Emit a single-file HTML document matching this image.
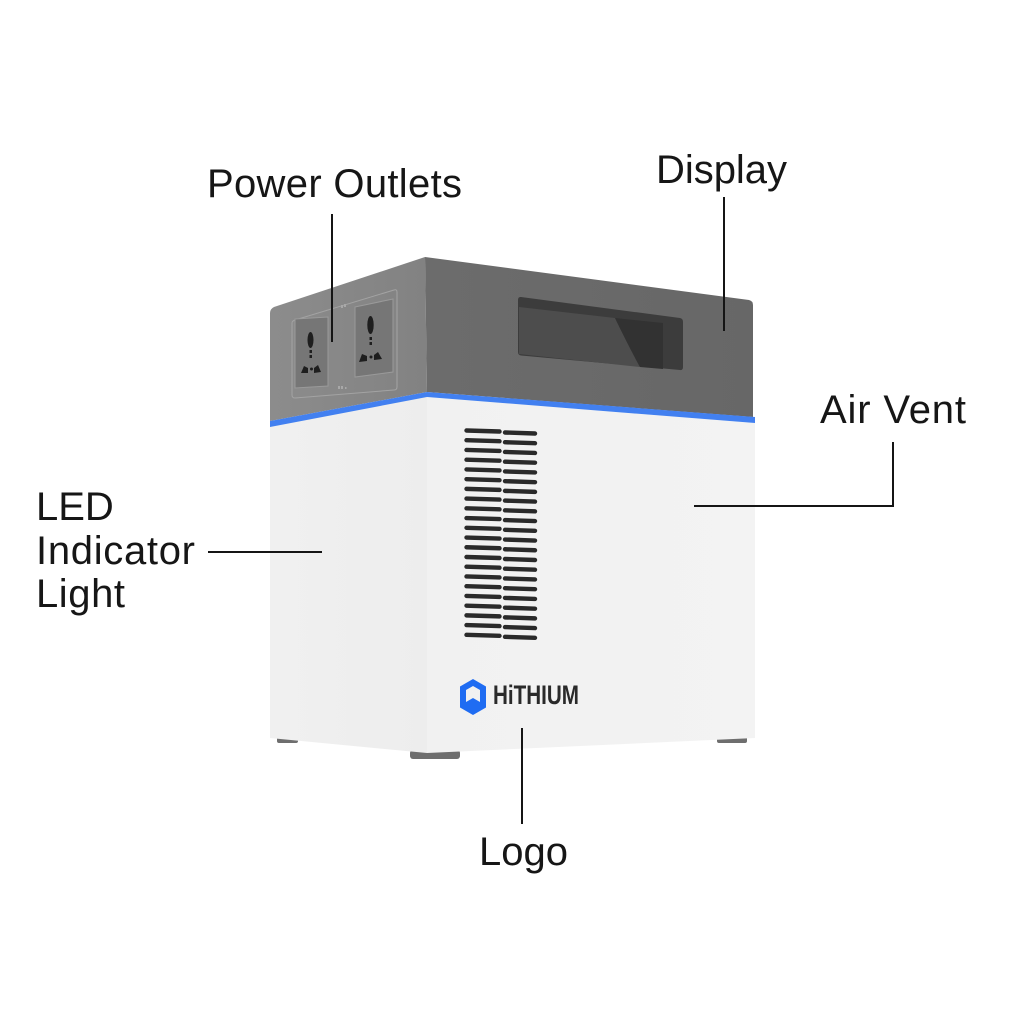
<!DOCTYPE html>
<html>
<head>
<meta charset="utf-8">
<style>
  html,body{margin:0;padding:0;background:#fff;}
  body{width:1024px;height:1024px;overflow:hidden;}
  svg{display:block;}
  .lbl{font-family:"Liberation Sans",Arial,sans-serif;font-size:40px;fill:#161616;}
</style>
</head>
<body>
<svg width="1024" height="1024" viewBox="0 0 1024 1024" xmlns="http://www.w3.org/2000/svg">
  <defs>
    <linearGradient id="gl" x1="0" y1="0" x2="1" y2="0">
      <stop offset="0" stop-color="#8c8c8c"/>
      <stop offset="1" stop-color="#828282"/>
    </linearGradient>
    <linearGradient id="gr" x1="0" y1="0" x2="1" y2="0">
      <stop offset="0" stop-color="#6c6c6c"/>
      <stop offset="1" stop-color="#676767"/>
    </linearGradient>
    <linearGradient id="wl" x1="0" y1="0" x2="1" y2="0">
      <stop offset="0" stop-color="#f0f0f0"/>
      <stop offset="1" stop-color="#ededed"/>
    </linearGradient>
    <linearGradient id="wr" x1="0" y1="0" x2="1" y2="0">
      <stop offset="0" stop-color="#f1f1f1"/>
      <stop offset="1" stop-color="#f3f3f3"/>
    </linearGradient>
  </defs>

  <!-- feet -->
  <rect x="277" y="736" width="21" height="7" rx="2" fill="#6e6e6e"/>
  <rect x="410" y="750" width="50" height="9" rx="3" fill="#6e6e6e"/>
  <rect x="717" y="736" width="30" height="7" rx="2" fill="#6e6e6e"/>

  <!-- white body -->
  <polygon points="270,425 427,397 427,753 270,738" fill="url(#wl)"/>
  <polygon points="427,397 755,423 755,738 427,753" fill="url(#wr)"/>

  <!-- gray top -->
  <path d="M270,313 Q270,309 274,307 L425,257 L427,392 L270,421 Z" fill="url(#gl)"/>
  <path d="M425,257 L749,300 Q753,301 753,305 L753,417 L427,392 Z" fill="url(#gr)"/>

  <!-- blue LED strip -->
  <polygon points="270,421 427,392 755,417 755,423 427,397 270,427" fill="#4280f0"/>

  <!-- outlets panel -->
  <path d="M295,320 L394,290 Q397,289 397,292 L397,387 Q397,390 394,390 L295,398 Q292,398 292,395 L292,323 Q292,321 295,320 Z" fill="none" stroke="#a3a3a3" stroke-width="1"/>
  <polygon points="295,319 328,317 328,386 295,388" fill="#767676" stroke="#9a9a9a" stroke-width="1"/>
  <polygon points="355,307 393,299 393,372 355,377" fill="#767676" stroke="#9a9a9a" stroke-width="1"/>
  <!-- left socket holes -->
  <g fill="#1e1e1e">
    <ellipse cx="310.5" cy="340" rx="3" ry="8"/>
    <rect x="309.5" y="350" width="2.5" height="3"/>
    <rect x="309.5" y="355" width="2.5" height="3"/>
    <path d="M301,373 L304,366 L308,368 L308,373 Z"/>
    <path d="M314,368 L318,365 L321,372 L314,373 Z"/>
    <circle cx="311.5" cy="369" r="1.5"/>
  </g>
  <!-- right socket holes -->
  <g fill="#1e1e1e">
    <ellipse cx="370.5" cy="325" rx="3.2" ry="9"/>
    <rect x="369.5" y="337" width="2.5" height="3"/>
    <rect x="369.5" y="342" width="2.5" height="3"/>
    <path d="M359,362 L362,354 L367,356 L367,361 Z"/>
    <path d="M374,355 L378,352 L382,359 L374,360 Z"/>
    <circle cx="371" cy="357" r="1.5"/>
  </g>
  <g fill="#a8a8a8">
    <rect x="341" y="305" width="2" height="3"/>
    <rect x="344" y="304" width="2" height="3"/>
    <rect x="338" y="386" width="2" height="3"/>
    <rect x="341" y="386" width="2" height="3"/>
    <rect x="345" y="387" width="1.5" height="2"/>
  </g>

  <!-- display window -->
  <path d="M521,297 L680,318 Q683,318.5 683,322 L683,367 Q683,370.5 680,370 L521,355.5 Q518,355 518,352 L518,300 Q518,296.5 521,297 Z" fill="#3c3c3c"/>
  <path d="M519,307 L615,318 Q628,345 640,367 L519,354 Z" fill="#4d4d4d"/>
  <path d="M615,318 L663,323 L663,369 L640,367 Q628,345 615,318 Z" fill="#323232"/>

  <!-- vents -->
  <path fill="none" stroke="#2a2a2a" stroke-width="4.4" stroke-linecap="round"
    d="M466.5,430.5 l33,1 m-33,8.73 l33,1 m-33,8.73 l33,1 m-33,8.73 l33,1 m-33,8.73 l33,1 m-33,8.73 l33,1 m-33,8.73 l33,1 m-33,8.73 l33,1 m-33,8.73 l33,1 m-33,8.73 l33,1 m-33,8.73 l33,1 m-33,8.73 l33,1 m-33,8.73 l33,1 m-33,8.73 l33,1 m-33,8.73 l33,1 m-33,8.73 l33,1 m-33,8.73 l33,1 m-33,8.73 l33,1 m-33,8.73 l33,1 m-33,8.73 l33,1 m-33,8.73 l33,1 m-33,8.73 l33,1"/>
  <path fill="none" stroke="#2a2a2a" stroke-width="4.4" stroke-linecap="round"
    d="M505,432.5 l30,1 m-30,8.73 l30,1 m-30,8.73 l30,1 m-30,8.73 l30,1 m-30,8.73 l30,1 m-30,8.73 l30,1 m-30,8.73 l30,1 m-30,8.73 l30,1 m-30,8.73 l30,1 m-30,8.73 l30,1 m-30,8.73 l30,1 m-30,8.73 l30,1 m-30,8.73 l30,1 m-30,8.73 l30,1 m-30,8.73 l30,1 m-30,8.73 l30,1 m-30,8.73 l30,1 m-30,8.73 l30,1 m-30,8.73 l30,1 m-30,8.73 l30,1 m-30,8.73 l30,1 m-30,8.73 l30,1"/>

  <!-- logo -->
  <path fill="#1f6cf2" fill-rule="evenodd"
    d="M473,679 L486,686.5 L486,707.5 L473,715 L460,707.5 L460,686.5 Z M473,686 L480,690 L480,702 L473,698 L466,702 L466,690 Z"/>
  <text x="493" y="704" font-family="Liberation Sans, Arial, sans-serif" font-weight="bold" font-size="27" fill="#2a2a2a" textLength="86" lengthAdjust="spacingAndGlyphs">HiTHIUM</text>

  <!-- leader lines -->
  <g stroke="#151515" stroke-width="2" fill="none">
    <line x1="332" y1="214" x2="332" y2="342"/>
    <line x1="724" y1="197" x2="724" y2="331"/>
    <polyline points="694,506 893,506 893,442"/>
    <line x1="208" y1="552" x2="322" y2="552"/>
    <line x1="522" y1="728" x2="522" y2="824"/>
  </g>

  <!-- labels -->
  <text class="lbl" x="207" y="197" textLength="255" lengthAdjust="spacing">Power Outlets</text>
  <text class="lbl" x="656" y="183" textLength="131" lengthAdjust="spacing">Display</text>
  <text class="lbl" x="820" y="423" textLength="146" lengthAdjust="spacing">Air Vent</text>
  <text class="lbl" x="36" y="520">LED</text>
  <text class="lbl" x="36" y="564" textLength="159" lengthAdjust="spacing">Indicator</text>
  <text class="lbl" x="36" y="607" textLength="89" lengthAdjust="spacing">Light</text>
  <text class="lbl" x="479" y="865" textLength="89" lengthAdjust="spacing">Logo</text>
</svg>
</body>
</html>
